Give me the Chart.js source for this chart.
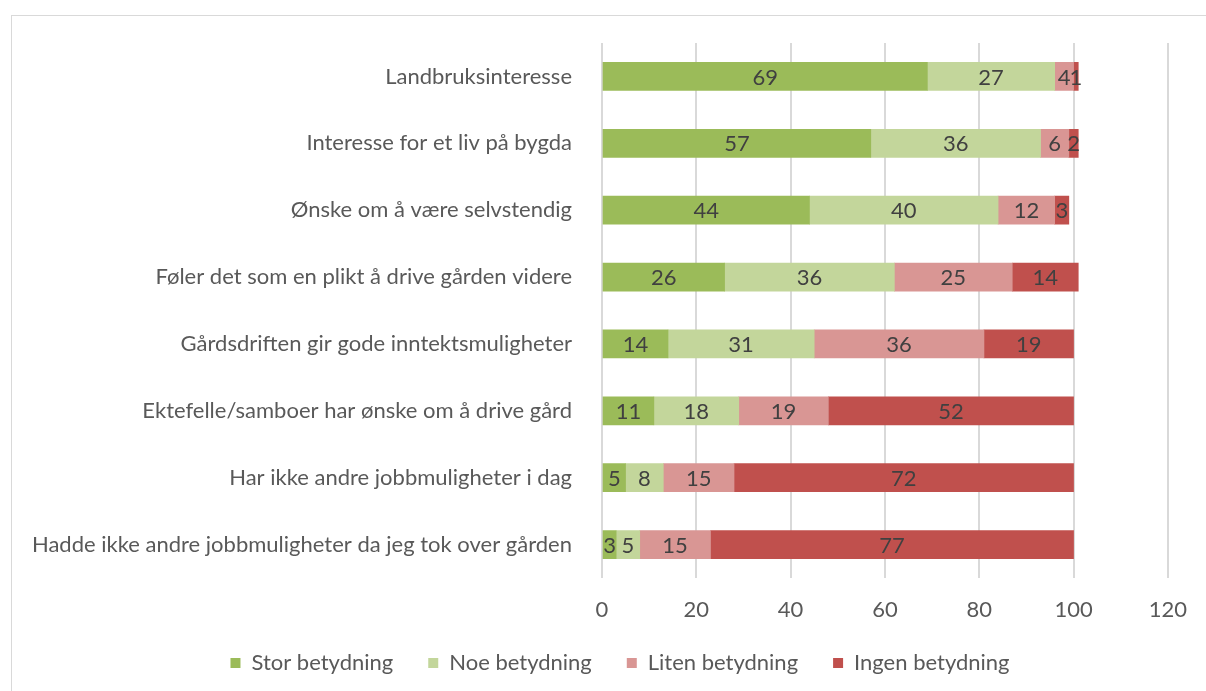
<!DOCTYPE html>
<html>
<head>
<meta charset="utf-8">
<script src="https://cdn.jsdelivr.net/npm/chart.js@4/dist/chart.umd.min.js"></script>
<style>
  html, body { margin: 0; padding: 0; background: #fff; overflow: hidden; }
  #frame { position: absolute; left: 11px; top: 15px; width: 1400px; height: 900px; border: 1px solid #d9d9d9; }
  #wrap { position: absolute; left: 0; top: 0; width: 1206px; height: 691px; }
</style>
</head>
<body>
<div id="frame"></div>
<div id="wrap"><canvas id="chart" width="1206" height="691"></canvas></div>
<script>
const categories = [
  'Landbruksinteresse',
  'Interesse for et liv på bygda',
  'Ønske om å være selvstendig',
  'Føler det som en plikt å drive gården videre',
  'Gårdsdriften gir gode inntektsmuligheter',
  'Ektefelle/samboer har ønske om å drive gård',
  'Har ikke andre jobbmuligheter i dag',
  'Hadde ikke andre jobbmuligheter da jeg tok over gården'
];
const stor = [69, 57, 44, 26, 14, 11, 5, 3];
const noe = [27, 36, 40, 36, 31, 18, 8, 5];
const liten = [4, 6, 12, 25, 36, 19, 15, 15];
const ingen = [1, 2, 3, 14, 19, 52, 72, 77];
const xTicks = [0, 20, 40, 60, 80, 100, 120];

const font = 'Lato, "Open Sans", sans-serif';
const size = 22;

// draws the value in the middle of every bar segment
const barLabels = {
  id: 'barLabels',
  afterDatasetsDraw(chart) {
    const ctx = chart.ctx;
    ctx.save();
    ctx.font = size + 'px ' + font;
    ctx.fillStyle = '#404040';
    ctx.textAlign = 'center';
    ctx.textBaseline = 'middle';
    chart.data.datasets.forEach((ds, i) => {
      chart.getDatasetMeta(i).data.forEach((bar, j) => {
        const p = bar.getProps(['x', 'y', 'base'], true);
        ctx.fillText(ds.data[j], (p.x + p.base) / 2, p.y + 1);
      });
    });
    ctx.restore();
  }
};

// the left padding only moves the legend; let the long category labels use it
const widenY = {
  id: 'widenY',
  afterLayout(chart) { chart.scales.y.left = 0; }
};

new Chart(document.getElementById('chart'), {
  type: 'bar',
  data: {
    labels: categories,
    datasets: [
      { label: 'Stor betydning', data: stor, backgroundColor: '#9bbb59' },
      { label: 'Noe betydning', data: noe, backgroundColor: '#c3d69b' },
      { label: 'Liten betydning', data: liten, backgroundColor: '#d99694' },
      { label: 'Ingen betydning', data: ingen, backgroundColor: '#c0504d' }
    ]
  },
  options: {
    indexAxis: 'y',
    responsive: false,
    animation: false,
    barThickness: 28,
    layout: { padding: { top: 43, right: 34, bottom: 7, left: 68 } },
    scales: {
      x: {
        stacked: true,
        min: 0,
        max: 120,
        afterBuildTicks: s => { s.ticks = xTicks.map(v => ({ value: v })); },
        afterFit: s => { s.height = 39; },
        grid: { color: '#d9d9d9', lineWidth: 2, drawTicks: false },
        border: { display: false },
        ticks: { padding: 19, color: '#595959', font: { family: font, size: size } }
      },
      y: {
        stacked: true,
        grid: { display: false },
        border: { display: false },
        afterFit: s => { s.width = 534; },
        ticks: { padding: 22, color: '#595959', font: { family: font, size: size } }
      }
    },
    plugins: {
      legend: {
        position: 'bottom',
        labels: {
          boxWidth: 10,
          boxHeight: 10,
          padding: 35,
          color: '#595959',
          font: { family: font, size: size }
        }
      },
      tooltip: { enabled: false }
    }
  },
  plugins: [barLabels, widenY]
});
</script>
</body>
</html>
